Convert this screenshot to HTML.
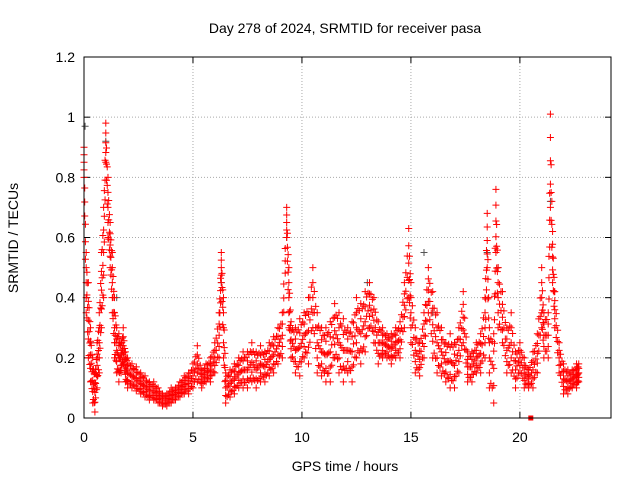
<!DOCTYPE html>
<html><head><meta charset="utf-8"><style>
body{margin:0;background:#fff;font-family:"Liberation Sans",sans-serif}
svg text{font-family:"Liberation Sans",sans-serif;font-size:14px;fill:#000}
</style></head><body>
<svg id="c" width="640" height="480" xmlns="http://www.w3.org/2000/svg">
<rect width="640" height="480" fill="#fff"/>
<g id="grid"></g>
<g id="ticks"></g>
<g id="marks"></g>
<rect x="84" y="57" width="527" height="361" fill="none" stroke="#000" stroke-width="1"/>
<text x="345" y="33" text-anchor="middle">Day 278 of 2024, SRMTID for receiver pasa</text>
<text x="345" y="471" text-anchor="middle">GPS time / hours</text>
<text x="0" y="0" text-anchor="middle" transform="translate(18,238) rotate(-90)">SRMTID / TECUs</text>
</svg>
<script>
const xTicks=[0,5,10,15,20];
const yTicks=[0,0.2,0.4,0.6,0.8,1,1.2];
const yTickLabels=["0","0.2","0.4","0.6","0.8","1","1.2"];
const times=[0,0.1,0.2,0.3,0.4,0.5,0.6,0.7,0.8,0.9,1.0,1.1,1.2,1.3,1.4,1.5,1.6,1.7,1.8,1.9,2.0,2.2,2.4,2.6,2.8,3.0,3.2,3.4,3.6,3.8,4.0,4.2,4.4,4.6,4.8,5.0,5.2,5.4,5.6,5.8,6.0,6.2,6.3,6.4,6.5,6.7,6.9,7.1,7.3,7.5,7.7,7.9,8.1,8.3,8.5,8.7,8.9,9.1,9.3,9.4,9.5,9.7,9.9,10.1,10.3,10.5,10.7,10.9,11.1,11.3,11.5,11.7,11.9,12.1,12.3,12.5,12.7,12.9,13.1,13.3,13.5,13.7,13.9,14.1,14.3,14.5,14.7,14.9,15.0,15.2,15.4,15.6,15.8,16.0,16.2,16.4,16.6,16.8,17.0,17.2,17.4,17.6,17.8,18.0,18.2,18.4,18.5,18.6,18.8,18.9,19.0,19.2,19.4,19.6,19.8,20.0,20.2,20.4,20.6,20.8,21.0,21.1,21.3,21.4,21.5,21.6,21.8,22.0,22.2,22.4,22.6,22.7];
const hiVals=[0.9,0.55,0.45,0.3,0.2,0.15,0.25,0.35,0.55,0.7,0.98,0.8,0.65,0.55,0.4,0.3,0.28,0.25,0.3,0.22,0.2,0.18,0.17,0.15,0.14,0.12,0.12,0.1,0.08,0.08,0.1,0.1,0.12,0.14,0.15,0.18,0.24,0.16,0.18,0.2,0.25,0.35,0.55,0.4,0.15,0.16,0.18,0.2,0.22,0.22,0.25,0.22,0.24,0.22,0.25,0.27,0.3,0.35,0.7,0.5,0.32,0.3,0.33,0.35,0.4,0.5,0.35,0.3,0.3,0.32,0.38,0.35,0.33,0.3,0.32,0.4,0.38,0.42,0.45,0.4,0.32,0.3,0.28,0.28,0.3,0.32,0.45,0.63,0.45,0.3,0.25,0.35,0.5,0.42,0.35,0.3,0.25,0.28,0.25,0.3,0.42,0.22,0.22,0.25,0.28,0.4,0.68,0.3,0.28,0.76,0.5,0.42,0.3,0.35,0.22,0.25,0.2,0.16,0.22,0.28,0.5,0.35,0.35,1.01,0.62,0.42,0.25,0.18,0.16,0.16,0.18,0.18];
const loVals=[0.8,0.35,0.2,0.12,0.05,0.02,0.1,0.15,0.3,0.4,0.85,0.6,0.5,0.35,0.2,0.15,0.12,0.15,0.18,0.12,0.1,0.1,0.09,0.08,0.07,0.06,0.06,0.05,0.04,0.04,0.05,0.06,0.07,0.08,0.08,0.1,0.12,0.1,0.12,0.12,0.15,0.2,0.45,0.2,0.05,0.07,0.08,0.1,0.1,0.1,0.12,0.1,0.12,0.12,0.14,0.15,0.18,0.2,0.6,0.3,0.2,0.15,0.14,0.2,0.18,0.3,0.15,0.14,0.12,0.12,0.2,0.15,0.12,0.15,0.12,0.2,0.18,0.22,0.3,0.25,0.18,0.2,0.2,0.18,0.2,0.2,0.3,0.4,0.25,0.15,0.14,0.2,0.35,0.2,0.15,0.14,0.12,0.1,0.1,0.15,0.25,0.12,0.12,0.15,0.15,0.2,0.5,0.1,0.05,0.55,0.3,0.25,0.15,0.15,0.1,0.15,0.1,0.1,0.1,0.15,0.3,0.2,0.2,0.7,0.45,0.3,0.15,0.08,0.08,0.1,0.1,0.12];
const greyTimes=[0.05,0.3,1.0,1.5,6.3,9.3,13.0,15.6,16.0,18.5,19.0,21.4];
const greyVals=[0.97,0.25,0.92,0.4,0.45,0.6,0.45,0.55,0.35,0.55,0.5,0.72];
const X0=84,X1=611,Y0=418,Y1=57,XMAX=24.18,YMAX=1.2;
const xs=v=>X0+(X1-X0)*v/XMAX, ys=v=>Y0-(Y0-Y1)*v/YMAX;
const NS="http://www.w3.org/2000/svg";
function mk(t,a,p){const e=document.createElementNS(NS,t);for(const k in a)e.setAttribute(k,a[k]);p.appendChild(e);return e;}
const grid=document.getElementById('grid'),ticks=document.getElementById('ticks'),marks=document.getElementById('marks');
yTicks.forEach((v,i)=>{const y=ys(v);
 if(i>0&&i<yTicks.length-1){const l=mk('line',{x1:X0,x2:X1,y1:y,y2:y,stroke:'#aaa','stroke-dasharray':'1,2'},grid);}
 mk('line',{x1:X0,x2:X0+6,y1:y,y2:y,stroke:'#000'},ticks);mk('line',{x1:X1,x2:X1-6,y1:y,y2:y,stroke:'#000'},ticks);
 const t=mk('text',{x:X0-9,y:y+5,'text-anchor':'end'},ticks);t.textContent=yTickLabels[i];
 });
xTicks.forEach(v=>{const x=xs(v);
 if(v>0){const l=mk('line',{x1:x,x2:x,y1:Y0,y2:Y1,stroke:'#aaa','stroke-dasharray':'1,2'},grid);}
 mk('line',{x1:x,x2:x,y1:Y0,y2:Y0-6,stroke:'#000'},ticks);mk('line',{x1:x,x2:x,y1:Y1,y2:Y1+6,stroke:'#000'},ticks);
 const t=mk('text',{x:x,y:Y0+24,'text-anchor':'middle'},ticks);t.textContent=String(v);
 });
function plus(t,v,c){const x=xs(t),y=ys(v);
 const p=mk('path',{d:`M${x-3.5} ${y}H${x+3.5}M${x} ${y-3.5}V${y+3.5}`,stroke:c,'stroke-width':1,fill:'none'},marks);
 }
greyTimes.forEach((t,i)=>plus(t,greyVals[i],'#555'));
times.forEach((t,i)=>{const h=hiVals[i],l=loVals[i];
 [1,0.75,0.5,0.25,0].forEach(f=>plus(t,l+(h-l)*f,'#f00'));
 if(i<times.length-1){const tn=times[i+1],hn=hiVals[i+1],ln=loVals[i+1];
  [0.33,0.66].forEach(g=>{const tt=t+(tn-t)*g;const hh=h+(hn-h)*g,ll=l+(ln-l)*g;
   plus(tt,hh*0.85+ll*0.15,'#f00');plus(tt,(hh+ll)/2,'#f00');plus(tt,ll*0.85+hh*0.15,'#f00');});}});
const sq=mk('rect',{x:xs(20.5)-2.5,y:ys(0)-2.5,width:5,height:5,fill:'#f00'},marks);

</script>
</body></html>
